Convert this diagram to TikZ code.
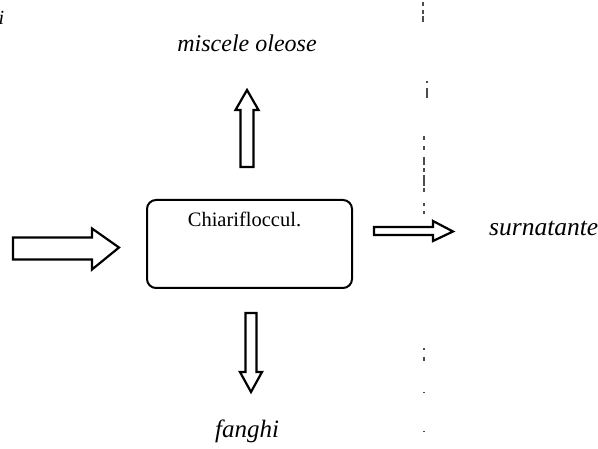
\documentclass[tikz,border=0pt]{standalone}
\usepackage{fontspec}
\setmainfont{Liberation Serif}
\usetikzlibrary{calc}
\begin{document}
\begin{tikzpicture}[x=1pt,y=-1pt,
  blockarrow/.style={draw=black,line width=2.2pt,fill=white,line join=miter},
  label/.style={font=\itshape,inner sep=0pt},
  sep/.style={draw=black!70,line width=1.2pt}]
\useasboundingbox (0,0) rectangle (598,449);
% process box
\node[draw,line width=2pt,rounded corners=9pt,minimum width=205pt,minimum height=88pt,inner sep=0pt] (box) at (249.5,244) {};
\node[inner sep=0pt,font=\fontsize{20.5}{22}\selectfont] (boxtext) at (244.5,219) {Chiarifloccul.};
% labels
\node[label,font=\itshape\fontsize{24}{26}\selectfont] (oil) at (247,43) {miscele oleose};
\node[label,font=\itshape\fontsize{25.5}{27}\selectfont,anchor=west] (sur) at (489,228) {surnatante};
\node[label,font=\itshape\fontsize{25}{27}\selectfont] (fan) at (247,431) {fanghi};
\node[label,font=\itshape\fontsize{20}{22}\selectfont,anchor=base east] (frag) at (4.5,25) {i};
% anchor coordinates for the block arrows
\coordinate (inS) at (13,248.5);
\coordinate (inT) at ($(box.west)+(-27,3.5)$);
\coordinate (outS) at ($(box.east)+(21,-13)$);
\coordinate (outT) at (453,231.5);
\coordinate (upS) at ($(box.north)+(-2.5,-32)$);
\coordinate (upT) at (247,90);
\coordinate (dnS) at ($(box.south)+(1.5,24)$);
\coordinate (dnT) at (251,392);
% input arrow (horizontal, to the right)
\draw[blockarrow] let \p1=(inS), \p2=(inT) in
  (\x1,\y1-11) -- (\x2-27,\y1-11) -- (\x2-27,\y1-21) -- (\x2,\y2) -- (\x2-27,\y1+20) -- (\x2-27,\y1+11) -- (\x1,\y1+11) -- cycle;
% output arrow to surnatante
\draw[blockarrow] let \p1=(outS), \p2=(outT) in
  (\x1,\y1-4) -- (\x2-20,\y1-4) -- (\x2-20,\y1-10) -- (\x2,\y2) -- (\x2-20,\y1+10) -- (\x2-20,\y1+4) -- (\x1,\y1+4) -- cycle;
% up arrow to miscele oleose (canvas y grows upward inside let)
\draw[blockarrow] let \p1=(upS), \p2=(upT) in
  (\x1-6.5,\y1) -- (\x1-6.5,\y2-20) -- (\x1-11.5,\y2-20) -- (\x2,\y2) -- (\x1+11.5,\y2-20) -- (\x1+6.5,\y2-20) -- (\x1+6.5,\y1) -- cycle;
% down arrow to fanghi
\draw[blockarrow] let \p1=(dnS), \p2=(dnT) in
  (\x1-5.5,\y1) -- (\x1-5.5,\y2+20) -- (\x1-11,\y2+20) -- (\x2,\y2) -- (\x1+11,\y2+20) -- (\x1+5.5,\y2+20) -- (\x1+5.5,\y1) -- cycle;
% broken vertical separator
\foreach \a/\b/\xx in {2/6/423,10/14/423,16/22/423,81/83/427,88/98/427,136/140/424,146/150/424,157/165/424,168/172/424,175/186/424,188/192/424,203/206/424,211/214/424,348/350/424,357/361/424,392/393/424,431/432/424}
  \draw[sep] (\xx,\a) -- (\xx,\b);
\end{tikzpicture}
\end{document}
